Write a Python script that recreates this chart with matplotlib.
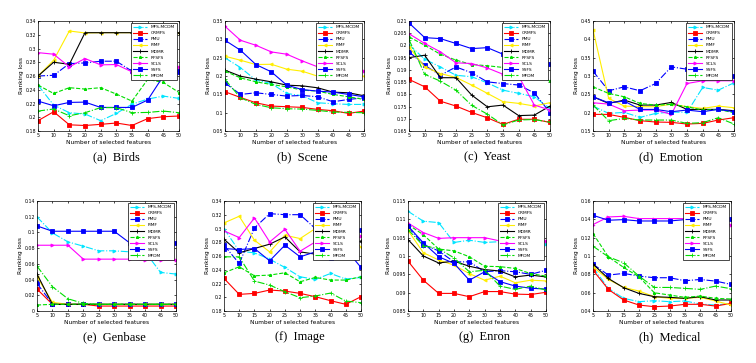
import numpy as np
import matplotlib
matplotlib.use('Agg')
import matplotlib.pyplot as plt
from matplotlib.ticker import FuncFormatter

# number of selected features
x = [5, 10, 15, 20, 25, 30, 35, 40, 45, 50]

methods = ['MFS-MCDM', 'CRMFS', 'PMU', 'FIMF', 'MDMR', 'RFSFS', 'SCLS', 'SSFS', 'MFDM']

# Ranking loss values, one dict per dataset
birds = {
    'MFS-MCDM': [0.2467, 0.2177, 0.2066, 0.2047, 0.1950, 0.2056, 0.2190, 0.2264, 0.2308, 0.2274],
    'CRMFS':    [0.1950, 0.2080, 0.1890, 0.1880, 0.1897, 0.1916, 0.1880, 0.1980, 0.2008, 0.2018],
    'PMU':      [0.2600, 0.2610, 0.2780, 0.2790, 0.2815, 0.2815, 0.2670, 0.2665, 0.2665, 0.2665],
    'FIMF':     [0.2600, 0.2830, 0.3255, 0.3226, 0.3230, 0.3230, 0.3230, 0.3230, 0.3230, 0.3230],
    'MDMR':     [0.2600, 0.2800, 0.2770, 0.3230, 0.3230, 0.3230, 0.3230, 0.3230, 0.3230, 0.3230],
    'RFSFS':    [0.2467, 0.2346, 0.2430, 0.2410, 0.2430, 0.2337, 0.2235, 0.2550, 0.2506, 0.2360],
    'SCLS':     [0.2940, 0.2917, 0.2733, 0.2854, 0.2762, 0.2767, 0.2660, 0.2675, 0.2700, 0.2730],
    'SSFS':     [0.2235, 0.2167, 0.2216, 0.2220, 0.2143, 0.2143, 0.2143, 0.2250, 0.2600, 0.2670],
    'MFDM':     [0.2090, 0.2120, 0.2022, 0.2066, 0.2140, 0.2140, 0.2066, 0.2070, 0.2090, 0.2066],
}
scene = {
    'MFS-MCDM': [0.2494, 0.2231, 0.1887, 0.1796, 0.1524, 0.1461, 0.1270, 0.1243, 0.1225, 0.1225],
    'CRMFS':    [0.1570, 0.1415, 0.1270, 0.1180, 0.1162, 0.1144, 0.1089, 0.1053, 0.0980, 0.1044],
    'PMU':      [0.1814, 0.1497, 0.1542, 0.1497, 0.1452, 0.1470, 0.1433, 0.1297, 0.1361, 0.1406],
    'FIMF':     [0.2539, 0.2430, 0.2313, 0.2320, 0.2186, 0.2131, 0.1995, 0.2100, 0.1995, 0.1995],
    'MDMR':     [0.2159, 0.1995, 0.1914, 0.1841, 0.1750, 0.1732, 0.1678, 0.1560, 0.1542, 0.1461],
    'RFSFS':    [0.2131, 0.1950, 0.1841, 0.1769, 0.1705, 0.1615, 0.1588, 0.1497, 0.1433, 0.1361],
    'SCLS':     [0.3355, 0.2974, 0.2838, 0.2657, 0.2594, 0.2412, 0.2250, 0.2280, 0.2200, 0.2130],
    'SSFS':     [0.2974, 0.2703, 0.2313, 0.2113, 0.1750, 0.1630, 0.1588, 0.1560, 0.1497, 0.1433],
    'MFDM':     [0.1905, 0.1406, 0.1225, 0.1134, 0.1107, 0.1098, 0.1062, 0.1017, 0.1008, 0.0998],
}
yeast = {
    'MFS-MCDM': [0.2003, 0.1944, 0.1912, 0.1878, 0.1872, 0.1847, 0.1817, 0.1804, 0.1790, 0.1742],
    'CRMFS':    [0.1861, 0.1831, 0.1772, 0.1752, 0.1726, 0.1704, 0.1677, 0.1698, 0.1698, 0.1685],
    'PMU':      [0.1974, 0.1919, 0.1878, 0.1912, 0.1888, 0.1851, 0.1844, 0.1838, 0.1806, 0.1725],
    'FIMF':     [0.1994, 0.1912, 0.1885, 0.1869, 0.1838, 0.1804, 0.1770, 0.1763, 0.1752, 0.1766],
    'MDMR':     [0.1950, 0.1960, 0.1868, 0.1868, 0.1797, 0.1749, 0.1756, 0.1713, 0.1715, 0.1752],
    'RFSFS':    [0.2035, 0.2001, 0.1964, 0.1940, 0.1922, 0.1917, 0.1910, 0.1899, 0.1888, 0.1854],
    'SCLS':     [0.2048, 0.2008, 0.1974, 0.1929, 0.1926, 0.1908, 0.1882, 0.1874, 0.1756, 0.1736],
    'SSFS':     [0.2092, 0.2032, 0.2028, 0.2008, 0.1987, 0.1991, 0.1964, 0.1950, 0.1945, 0.1926],
    'MFDM':     [0.2024, 0.1882, 0.1854, 0.1817, 0.1755, 0.1719, 0.1675, 0.1695, 0.1697, 0.1686],
}
emotion = {
    'MFS-MCDM': [0.2180, 0.1980, 0.2008, 0.1872, 0.1980, 0.2017, 0.2008, 0.2687, 0.2615, 0.2814],
    'CRMFS':    [0.1953, 0.1953, 0.1872, 0.1781, 0.1745, 0.1736, 0.1690, 0.1708, 0.1799, 0.1863],
    'PMU':      [0.3131, 0.2597, 0.2705, 0.2597, 0.2796, 0.3249, 0.3185, 0.3113, 0.3023, 0.3005],
    'FIMF':     [0.4264, 0.2388, 0.2180, 0.2162, 0.2162, 0.2234, 0.2162, 0.2116, 0.2180, 0.2134],
    'MDMR':     [0.2433, 0.2252, 0.2343, 0.2207, 0.2207, 0.2279, 0.2089, 0.2089, 0.2089, 0.2053],
    'RFSFS':    [0.2705, 0.2524, 0.2433, 0.2252, 0.2207, 0.2225, 0.2162, 0.2071, 0.2089, 0.1998],
    'SCLS':     [0.2270, 0.2234, 0.2053, 0.2071, 0.2071, 0.1953, 0.2796, 0.2869, 0.2869, 0.2869],
    'SSFS':     [0.2433, 0.2270, 0.2315, 0.2089, 0.2089, 0.2026, 0.2071, 0.2026, 0.2089, 0.2026],
    'MFDM':     [0.2207, 0.1781, 0.1844, 0.1799, 0.1799, 0.1799, 0.1708, 0.1727, 0.1863, 0.1690],
}
genbase = {
    'MFS-MCDM': [0.1197, 0.0994, 0.0880, 0.0825, 0.0766, 0.0766, 0.0753, 0.0753, 0.0491, 0.0470],
    'CRMFS':    [0.0279, 0.0085, 0.0085, 0.0085, 0.0063, 0.0063, 0.0063, 0.0063, 0.0063, 0.0063],
    'PMU':      [0.0351, 0.0089, 0.0085, 0.0085, 0.0085, 0.0085, 0.0085, 0.0085, 0.0085, 0.0085],
    'FIMF':     [0.0436, 0.0110, 0.0085, 0.0085, 0.0085, 0.0085, 0.0085, 0.0085, 0.0085, 0.0085],
    'MDMR':     [0.0470, 0.0085, 0.0085, 0.0085, 0.0085, 0.0085, 0.0085, 0.0085, 0.0085, 0.0085],
    'RFSFS':    [0.0076, 0.0085, 0.0085, 0.0090, 0.0085, 0.0085, 0.0085, 0.0085, 0.0085, 0.0085],
    'SCLS':     [0.0837, 0.0837, 0.0837, 0.0660, 0.0660, 0.0660, 0.0660, 0.0647, 0.0647, 0.0647],
    'SSFS':     [0.1083, 0.1015, 0.1015, 0.1015, 0.1015, 0.1015, 0.0867, 0.0867, 0.0867, 0.0867],
    'MFDM':     [0.0571, 0.0309, 0.0156, 0.0097, 0.0085, 0.0085, 0.0085, 0.0085, 0.0085, 0.0085],
}
image = {
    'MFS-MCDM': [0.2999, 0.2670, 0.2646, 0.2554, 0.2433, 0.2298, 0.2259, 0.2346, 0.2264, 0.2288],
    'CRMFS':    [0.2274, 0.2042, 0.2056, 0.2105, 0.2090, 0.2056, 0.2008, 0.1950, 0.1897, 0.2008],
    'PMU':      [0.2757, 0.2491, 0.3008, 0.3216, 0.3201, 0.3201, 0.2999, 0.3100, 0.3050, 0.2975],
    'FIMF':     [0.3081, 0.3178, 0.2830, 0.2660, 0.2902, 0.2854, 0.2999, 0.3000, 0.2900, 0.2733],
    'MDMR':     [0.2844, 0.2646, 0.2709, 0.2772, 0.2878, 0.2660, 0.2627, 0.2670, 0.2750, 0.2820],
    'RFSFS':    [0.2356, 0.2443, 0.2312, 0.2322, 0.2356, 0.2225, 0.2288, 0.2250, 0.2250, 0.2298],
    'SCLS':     [0.2965, 0.2868, 0.3153, 0.2805, 0.2989, 0.2670, 0.2805, 0.2733, 0.2750, 0.2888],
    'SSFS':     [0.2709, 0.2694, 0.2709, 0.2530, 0.2757, 0.2588, 0.2660, 0.2573, 0.2700, 0.2433],
    'MFDM':     [0.2588, 0.2588, 0.2235, 0.2177, 0.2080, 0.1993, 0.2018, 0.2061, 0.1945, 0.1921],
}
enron = {
    'MFS-MCDM': [0.1122, 0.1095, 0.1091, 0.1037, 0.1043, 0.1037, 0.1039, 0.1048, 0.1052, 0.1034],
    'CRMFS':    [0.0986, 0.0934, 0.0898, 0.0898, 0.0889, 0.0903, 0.0903, 0.0896, 0.0895, 0.0901],
    'PMU':      [0.1079, 0.1031, 0.1014, 0.0984, 0.0984, 0.0957, 0.0960, 0.0957, 0.0950, 0.0961],
    'FIMF':     [0.1070, 0.1009, 0.0989, 0.0975, 0.0952, 0.0934, 0.0945, 0.0927, 0.0934, 0.0932],
    'MDMR':     [0.1045, 0.1000, 0.0981, 0.0986, 0.0972, 0.0963, 0.0959, 0.0943, 0.0948, 0.0943],
    'RFSFS':    [0.1086, 0.1058, 0.1019, 0.1014, 0.0998, 0.0972, 0.0971, 0.0966, 0.0952, 0.0945],
    'SCLS':     [0.1090, 0.1064, 0.1048, 0.1050, 0.1050, 0.1050, 0.1041, 0.1041, 0.1041, 0.1040],
    'SSFS':     [0.1082, 0.1036, 0.0998, 0.0980, 0.0934, 0.0957, 0.0930, 0.0918, 0.0912, 0.0910],
    'MFDM':     [0.1072, 0.1028, 0.1020, 0.0995, 0.0957, 0.0961, 0.0918, 0.0909, 0.0918, 0.0907],
}
medical = {
    'MFS-MCDM': [0.0875, 0.0647, 0.0538, 0.0502, 0.0512, 0.0502, 0.0509, 0.0476, 0.0465, 0.0483],
    'CRMFS':    [0.0846, 0.0636, 0.0520, 0.0465, 0.0447, 0.0454, 0.0473, 0.0473, 0.0454, 0.0483],
    'PMU':      [0.0911, 0.0792, 0.0810, 0.0781, 0.0763, 0.0763, 0.0730, 0.0744, 0.0726, 0.0690],
    'FIMF':     [0.0882, 0.0744, 0.0657, 0.0618, 0.0556, 0.0538, 0.0538, 0.0549, 0.0509, 0.0465],
    'MDMR':     [0.0911, 0.0755, 0.0654, 0.0592, 0.0556, 0.0549, 0.0538, 0.0556, 0.0520, 0.0520],
    'RFSFS':    [0.1245, 0.0991, 0.0875, 0.0773, 0.0599, 0.0574, 0.0549, 0.0563, 0.0538, 0.0531],
    'SCLS':     [0.1343, 0.1426, 0.1433, 0.1408, 0.1408, 0.1408, 0.1408, 0.1408, 0.1408, 0.1335],
    'SSFS':     [0.1444, 0.1390, 0.1397, 0.1382, 0.1382, 0.1382, 0.1397, 0.1400, 0.1400, 0.1408],
    'MFDM':     [0.1107, 0.0991, 0.0926, 0.0781, 0.0657, 0.0657, 0.0647, 0.0636, 0.0672, 0.0643],
}

datasets = [birds, scene, yeast, emotion, genbase, image, enron, medical]
captions = ['(a)  Birds', '(b)  Scene', '(c)  Yeast', '(d)  Emotion',
            '(e)  Genbase', '(f)  Image', '(g)  Enron', '(h)  Medical']
ylims = [(0.18, 0.34), (0.05, 0.35), (0.165, 0.21), (0.15, 0.45),
         (0.0, 0.14), (0.18, 0.34), (0.085, 0.115), (0.04, 0.16)]
ysteps = [0.02, 0.05, 0.005, 0.05, 0.02, 0.02, 0.005, 0.02]

styles = {
    'MFS-MCDM': ('#00e5ff', '-.', '>'),
    'CRMFS':    ('#ff0000', '-', 's'),
    'PMU':      ('#0000ff', '-.', 's'),
    'FIMF':     ('#ffee00', '-', '<'),
    'MDMR':     ('#000000', '-', '+'),
    'RFSFS':    ('#00dd00', '--', '*'),
    'SCLS':     ('#ff00ff', '-', '>'),
    'SSFS':     ('#0000ff', '-', 's'),
    'MFDM':     ('#00dd00', '-.', '+'),
}

# axes boxes in pixels: left, right (top/bottom shared per row)
W, H = 756, 363
cols_top = [(38, 179), (225, 364), (409, 550), (593, 734)]
cols_bot = [(37, 176), (224, 361), (408, 546), (593, 731)]
rows = [(21, 131), (201, 311)]

fig = plt.figure(figsize=(W / 100, H / 100), dpi=100)

for i, data in enumerate(datasets):
    r = i // 4
    l, rt = (cols_top if r == 0 else cols_bot)[i % 4]
    t, b = rows[r]
    ax = fig.add_axes([l / W, 1 - b / H, (rt - l) / W, (b - t) / H])
    for m in methods:
        c, ls, mk = styles[m]
        ax.plot(x, data[m], color=c, ls=ls, marker=mk, ms=2.2, lw=0.8,
                mew=0.6, label=m)
    lo, hi = ylims[i]
    ax.set_xlim(5, 50)
    ax.set_ylim(lo, hi)
    ax.set_xticks(x)
    ax.set_yticks(np.arange(lo, hi + ysteps[i] / 2, ysteps[i]))
    ax.yaxis.set_major_formatter(FuncFormatter(lambda v, p: '%g' % round(v, 4)))
    ax.tick_params(direction='in', length=1.5, width=0.5, labelsize=3.4, pad=1.5,
                   top=True, right=True)
    for s in ax.spines.values():
        s.set_linewidth(0.5)
    ax.set_xlabel('Number of selected features', fontsize=4.2, labelpad=1.2)
    ax.set_ylabel('Ranking loss', fontsize=4.2, labelpad=1.2)
    leg = ax.legend(loc='upper right', fontsize=3.2, handlelength=3.2,
                    labelspacing=0.45, borderpad=0.4, borderaxespad=0.5,
                    fancybox=False, framealpha=1, edgecolor='black')
    leg.get_frame().set_linewidth(0.5)
    fig.text((l + rt) / 2 / W + 0.01, 1 - (b + 26) / H, captions[i],
             ha='center', va='center', fontsize=9, family='Liberation Serif')

fig.savefig('out.png', dpi=100)
